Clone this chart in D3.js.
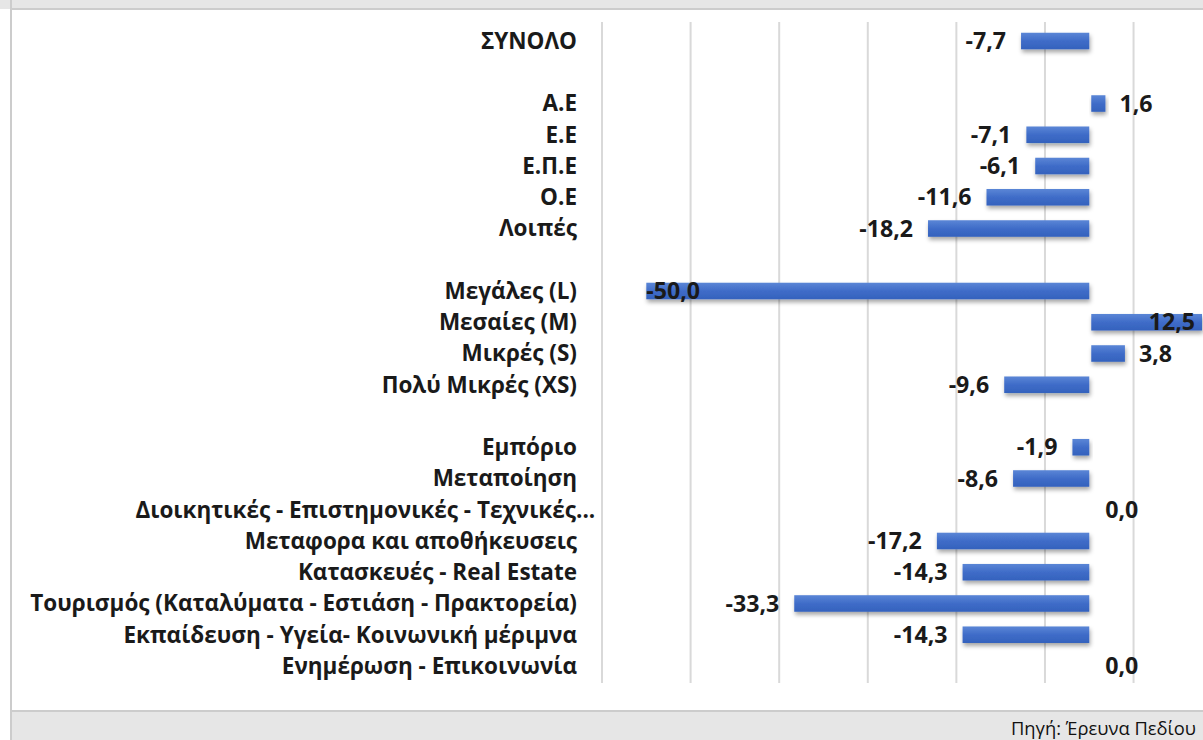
<!DOCTYPE html>
<html><head><meta charset="utf-8">
<script src="https://cdn.jsdelivr.net/npm/d3@7"></script>
<style>
html,body{margin:0;padding:0;background:#fff;overflow:hidden;}
svg{display:block;}
</style></head>
<body>
<svg id="c" width="1203" height="740"></svg>
<script>
// Categories (blank strings are spacer rows between groups)
const categories = [
  "ΣΥΝΟΛΟ", "",
  "Α.Ε", "Ε.Ε", "Ε.Π.Ε", "Ο.Ε", "Λοιπές", " ",
  "Μεγάλες (L)", "Μεσαίες (M)", "Μικρές (S)", "Πολύ Μικρές (XS)", "  ",
  "Εμπόριο", "Μεταποίηση", "Διοικητικές - Επιστημονικές - Τεχνικές...",
  "Μεταφορα και αποθήκευσεις", "Κατασκευές - Real Estate",
  "Τουρισμός (Καταλύματα - Εστιάση - Πρακτορεία)",
  "Εκπαίδευση - Υγεία- Κοινωνική μέριμνα", "Ενημέρωση - Επικοινωνία"
];
const values = [
  -7.7, null,
  1.6, -7.1, -6.1, -11.6, -18.2, null,
  -50.0, 12.5, 3.8, -9.6, null,
  -1.9, -8.6, 0.0, -17.2, -14.3, -33.3, -14.3, 0.0
];
const gridTicks = [-55, -45, -35, -25, -15, -5, 5];
const source = "Πηγή: Έρευνα Πεδίου";

const svg = d3.select("#c");
const W = 1203, H = 740;

// frame: top band, left border, footer
svg.append("rect").attr("x",0).attr("y",0).attr("width",W).attr("height",9).attr("fill","#e6e6e6");
svg.append("line").attr("x1",11).attr("x2",W).attr("y1",9).attr("y2",9).attr("stroke","#cccccc").attr("stroke-width",2);
svg.append("line").attr("x1",11).attr("x2",11).attr("y1",0).attr("y2",H).attr("stroke","#cccccc").attr("stroke-width",2);
svg.append("rect").attr("x",12).attr("y",712).attr("width",W).attr("height",28).attr("fill","#e6e6e6");
svg.append("line").attr("x1",11).attr("x2",W).attr("y1",711).attr("y2",711).attr("stroke","#cccccc").attr("stroke-width",2);
svg.append("text").attr("x",1196).attr("y",735).attr("text-anchor","end")
  .attr("font-family","'Open Sans','Noto Sans',sans-serif").attr("font-weight",400)
  .attr("font-size",19).attr("fill","#111").attr("textLength",185).attr("lengthAdjust","spacingAndGlyphs").text(source);

const x = d3.scaleLinear().domain([-55, 12.5]).range([602, 1200]);
const y = d3.scaleBand().domain(categories).range([25.4, 681.6]).paddingInner(0.47).paddingOuter(0.235);

const defs = svg.append("defs");
const grad = defs.append("linearGradient").attr("id","bg").attr("x1",0).attr("x2",0).attr("y1",0).attr("y2",1);
grad.append("stop").attr("offset","0%").attr("stop-color","#5b86d6");
grad.append("stop").attr("offset","50%").attr("stop-color","#3f6cc8");
grad.append("stop").attr("offset","100%").attr("stop-color","#3462bd");
const f = defs.append("filter").attr("id","sh").attr("x","-10%").attr("y","-30%").attr("width","130%").attr("height","190%");
f.append("feDropShadow").attr("dx",1).attr("dy",3).attr("stdDeviation",2).attr("flood-color","#000").attr("flood-opacity",0.35);

// gridlines
svg.append("g").selectAll("line").data(gridTicks).join("line")
  .attr("x1",d=>x(d)).attr("x2",d=>x(d)).attr("y1",22).attr("y2",683)
  .attr("stroke","#d9d9d9").attr("stroke-width",2);

const data = categories.map((c,i)=>({c, v: values[i]})).filter(d=>d.v!==null);

// bars
svg.append("g").selectAll("rect").data(data.filter(d=>d.v!==0)).join("rect")
  .attr("x",d=>d.v>0 ? x(0)+2 : x(d.v)).attr("width",d=>Math.abs(x(d.v)-x(0)))
  .attr("y",d=>y(d.c)).attr("height",y.bandwidth())
  .attr("fill","url(#bg)").attr("filter","url(#sh)");

const fontFam = "'Open Sans','Noto Sans',sans-serif";

// category labels
const catG = svg.append("g");
const labs = catG.selectAll("text").data(categories.filter(c=>c.trim()!=="")).join("text")
  .attr("x",577).attr("y",d=>y(d)+y.bandwidth()/2).attr("dy","0.35em")
  .attr("text-anchor","end").attr("font-family",fontFam).attr("font-weight",700)
  .attr("font-size",17).attr("fill","#1a1a1a").text(d=>d);
// fit longest label width to 547px
let maxW = 0; labs.each(function(){ maxW = Math.max(maxW, this.getComputedTextLength()); });
const fs = 17*547/maxW;
labs.attr("font-size",fs);
// truncated label: ellipsis hangs past the label edge
labs.filter(d=>d.endsWith("...")).each(function(){
  const full = this.getComputedTextLength();
  const el = d3.select(this);
  const t = el.text();
  el.text(t.slice(0,-3));
  const part = this.getComputedTextLength();
  el.text(t).attr("x", 577 + (full - part) - 1);
});

// value labels
const fmt = v => d3.format(".1f")(v).replace(".",",").replace("−","-");
svg.append("g").selectAll("text").data(data).join("text")
  .attr("font-family",fontFam).attr("font-weight",700).attr("font-size",fs*1.03).attr("fill","#1a1a1a")
  .attr("y",d=>y(d.c)+y.bandwidth()/2).attr("dy","0.35em")
  .text(d=>fmt(d.v))
  .each(function(d){
    const el = d3.select(this);
    const w = this.getComputedTextLength();
    if (d.v < 0) {
      let xe = x(d.v) - 15;
      if (xe - w < x.range()[0]) { el.attr("x", x(d.v)).attr("text-anchor","start"); }
      else el.attr("x", xe).attr("text-anchor","end");
    } else {
      let xs = x(d.v) + 16;
      if (xs + w > x.range()[1]) { el.attr("x", x(d.v)-5).attr("text-anchor","end"); }
      else el.attr("x", xs).attr("text-anchor","start");
    }
  });
</script>
</body></html>
